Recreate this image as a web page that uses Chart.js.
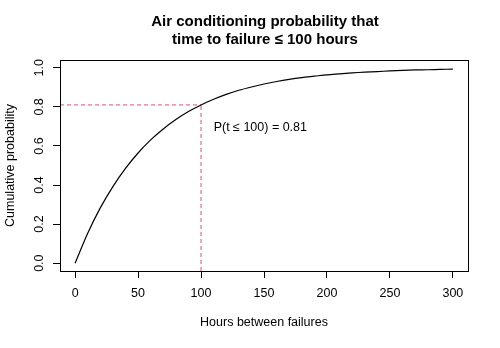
<!DOCTYPE html>
<html lang="en">
<head>
    <meta charset="UTF-8">
    <title>Air conditioning probability</title>
    <script src="https://cdn.jsdelivr.net/npm/chart.js"></script>
    <style>
        html, body { margin: 0; padding: 0; background: #fff; }
        #wrap { width: 500px; height: 348px; }
    </style>
</head>
<body>
    <div id="wrap"><canvas id="cdfChart" width="500" height="348"></canvas></div>
    <script>
        // values
        const hours = [0, 10, 20, 30, 40, 50, 60, 70, 80, 90, 100, 110, 120, 130, 140, 150,
                       160, 170, 180, 190, 200, 210, 220, 230, 240, 250, 260, 270, 280, 290, 300];
        const cumProb = [0, 0.153, 0.283, 0.392, 0.485, 0.564, 0.631, 0.687, 0.735, 0.776, 0.810,
                         0.839, 0.864, 0.885, 0.902, 0.917, 0.930, 0.941, 0.950, 0.957, 0.964,
                         0.969, 0.974, 0.978, 0.981, 0.984, 0.987, 0.989, 0.990, 0.992, 0.993];
        const cutHours = 100;
        const cutProb = 0.81;
        const xTicks = [0, 50, 100, 150, 200, 250, 300];
        const yTicks = [0, 0.2, 0.4, 0.6, 0.8, 1.0];
        const titleLines = ['Air conditioning probability that', 'time to failure \u2264 100 hours'];
        const noteText = 'P(t \u2264 100) = 0.81';

        const xMin = -12, xMax = 312, yMin = -0.04, yMax = 1.04;
        const font = '"Liberation Sans", Arial, sans-serif';
        const dashCol = '#DB5272';

        const decor = {
            id: 'decor',
            afterDraw(chart) {
                const ctx = chart.ctx;
                const a = chart.chartArea;
                const xs = chart.scales.x, ys = chart.scales.y;
                ctx.save();
                // box
                ctx.strokeStyle = '#000';
                ctx.lineWidth = 1;
                ctx.strokeRect(a.left + 0.5, a.top + 0.5, a.right - a.left, a.bottom - a.top);
                ctx.fillStyle = '#000';
                // title
                ctx.font = 'bold 15px ' + font;
                ctx.textAlign = 'center';
                ctx.textBaseline = 'middle';
                ctx.fillText(titleLines[0], 265, 22);
                ctx.fillText(titleLines[1], 265, 40);
                // axis titles
                ctx.font = '12.5px ' + font;
                ctx.fillText('Hours between failures', (a.left + a.right) / 2, 323);
                ctx.save();
                ctx.translate(11, (a.top + a.bottom) / 2);
                ctx.rotate(-Math.PI / 2);
                ctx.fillText('Cumulative probability', 0, 0);
                ctx.restore();
                // y tick labels, rotated like R
                yTicks.forEach(v => {
                    ctx.save();
                    ctx.translate(40, ys.getPixelForValue(v));
                    ctx.rotate(-Math.PI / 2);
                    ctx.fillText(v.toFixed(1), 0, 0);
                    ctx.restore();
                });
                // annotation
                ctx.textAlign = 'left';
                ctx.fillText(noteText, xs.getPixelForValue(110), ys.getPixelForValue(0.695));
                ctx.restore();
            }
        };

        new Chart(document.getElementById('cdfChart'), {
            type: 'scatter',
            data: {
                datasets: [
                    {
                        data: hours.map((h, i) => ({ x: h, y: cumProb[i] })),
                        showLine: true,
                        borderColor: '#000',
                        borderWidth: 1.2,
                        pointRadius: 0,
                        tension: 0.3
                    },
                    {
                        data: [{ x: xMin, y: cutProb }, { x: cutHours, y: cutProb }],
                        showLine: true,
                        borderColor: dashCol,
                        borderWidth: 1,
                        borderDash: [4, 3],
                        pointRadius: 0
                    },
                    {
                        data: [{ x: cutHours, y: yMin }, { x: cutHours, y: cutProb }],
                        showLine: true,
                        borderColor: dashCol,
                        borderWidth: 1,
                        borderDash: [4, 3],
                        pointRadius: 0
                    }
                ]
            },
            options: {
                responsive: false,
                animation: false,
                layout: { padding: { left: 0, right: 32, top: 60, bottom: 0 } },
                plugins: { legend: { display: false }, title: { display: false }, tooltip: { enabled: false } },
                scales: {
                    x: {
                        type: 'linear',
                        min: xMin,
                        max: xMax,
                        afterBuildTicks: s => { s.ticks = xTicks.map(v => ({ value: v })); },
                        afterFit: s => { s.height = 77; },
                        grid: { drawOnChartArea: false, drawTicks: true, tickLength: 7, color: '#000' },
                        border: { display: false },
                        ticks: { color: '#000', font: { family: font, size: 12.5 }, padding: 8, maxRotation: 0 }
                    },
                    y: {
                        type: 'linear',
                        min: yMin,
                        max: yMax,
                        afterBuildTicks: s => { s.ticks = yTicks.map(v => ({ value: v })); },
                        afterFit: s => { s.width = 60; },
                        grid: { drawOnChartArea: false, drawTicks: true, tickLength: 7, color: '#000' },
                        border: { display: false },
                        ticks: { color: 'rgba(0,0,0,0)', font: { family: font, size: 12 } }
                    }
                }
            },
            plugins: [decor]
        });
    </script>
</body>
</html>
